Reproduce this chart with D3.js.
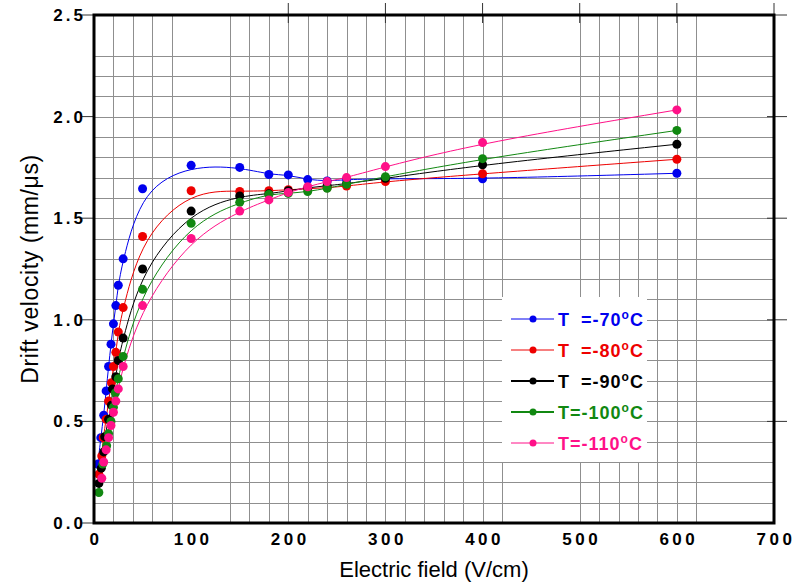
<!DOCTYPE html>
<html>
<head>
<meta charset="utf-8">
<script src="https://cdn.jsdelivr.net/npm/d3@7"></script>
<style>
  body { margin: 0; background: #fff; }
  text { font-family: "Liberation Sans", Arial, sans-serif; }
</style>
</head>
<body>
<div id="chart"></div>
<script>
// Temperatures in the legend
var labels = ["-70", "-80", "-90", "-100", "-110"];
var colors = ["#0000ee", "#ee0000", "#000000", "#118811", "#ff1188"];

// Drift velocity data, [field (V/cm), velocity (mm/us)]
var t70 = [[4, 0.29], [7, 0.42], [10, 0.53], [12.5, 0.65], [15, 0.77], [17.5, 0.88], [20, 0.98], [22.5, 1.07], [25, 1.17], [30, 1.30], [50, 1.645], [100, 1.76], [150, 1.75], [180, 1.715], [200, 1.713], [220, 1.69], [240, 1.683], [260, 1.69], [300, 1.695], [400, 1.694], [600, 1.721]];
var t80 = [[5, 0.24], [8, 0.33], [9.5, 0.42], [12.5, 0.51], [15, 0.60], [18, 0.69], [20, 0.77], [22.5, 0.84], [25, 0.94], [30, 1.06], [50, 1.41], [100, 1.635], [150, 1.632], [180, 1.635], [200, 1.64], [220, 1.645], [240, 1.65], [260, 1.658], [300, 1.68], [400, 1.719], [600, 1.79]];
var t90 = [[5, 0.195], [7.5, 0.27], [10, 0.35], [11, 0.425], [15, 0.51], [18, 0.58], [19, 0.66], [22.5, 0.72], [25, 0.80], [30, 0.91], [50, 1.25], [100, 1.535], [150, 1.609], [180, 1.62], [200, 1.635], [220, 1.65], [240, 1.66], [260, 1.67], [300, 1.696], [400, 1.763], [600, 1.864]];
var t100 = [[5, 0.15], [9, 0.29], [13, 0.38], [15, 0.44], [17.5, 0.50], [20, 0.57], [22, 0.64], [25, 0.71], [30, 0.82], [50, 1.15], [100, 1.475], [150, 1.578], [180, 1.617], [200, 1.622], [220, 1.631], [240, 1.647], [260, 1.667], [300, 1.704], [400, 1.793], [600, 1.932]];
var t110 = [[8, 0.22], [10, 0.30], [12.5, 0.36], [15, 0.42], [17.5, 0.48], [20, 0.545], [22.5, 0.60], [25, 0.66], [30, 0.77], [50, 1.07], [100, 1.40], [150, 1.535], [180, 1.59], [200, 1.627], [220, 1.655], [240, 1.68], [260, 1.70], [300, 1.754], [400, 1.872], [600, 2.033]];
var allSeries = [t70, t80, t90, t100, t110];

// Axis ticks and visible grid lines
var xTicks = [0, 100, 200, 300, 400, 500, 600, 700];
var yTicks = [0, 0.5, 1.0, 1.5, 2.0, 2.5];
var xGrid = [20, 40, 60, 80, 140, 160, 180, 200, 220, 240, 260, 280, 300, 320, 340, 360, 380, 400, 420, 500, 520, 540, 560, 580, 600, 620];
var yGrid = [0.1, 0.2, 0.3, 0.4, 0.5, 0.6, 0.7, 0.8, 0.9, 1.0, 1.1, 1.2, 1.3, 1.4, 1.5, 1.6, 1.7, 1.8, 1.9, 2.0, 2.1, 2.2, 2.3];
var xTopTicks = [200, 300, 400, 500, 600, 700];

var svgWidth = 800;
var svgHeight = 586;
var margin = { top: 15, right: 26, bottom: 63, left: 94 };
var chartWidth = svgWidth - margin.left - margin.right;
var chartHeight = svgHeight - margin.top - margin.bottom;

var svg = d3.select("#chart")
    .append("svg")
    .attr("width", svgWidth)
    .attr("height", svgHeight);

var chartGroup = svg.append("g")
    .attr("transform", `translate(${margin.left}, ${margin.top})`);

var xScale = d3.scaleLinear().domain([0, 700]).range([0, chartWidth]);
var yScale = d3.scaleLinear().domain([0, 2.5]).range([chartHeight, 0]);

// grid
chartGroup.append("g")
    .selectAll("line")
    .data(xGrid)
    .enter()
    .append("line")
    .attr("x1", d => Math.round(xScale(d)) + 0.5)
    .attr("x2", d => Math.round(xScale(d)) + 0.5)
    .attr("y1", 0)
    .attr("y2", chartHeight)
    .attr("stroke", "#8f8f8f")
    .attr("stroke-width", 1);
chartGroup.append("g")
    .selectAll("line")
    .data(yGrid)
    .enter()
    .append("line")
    .attr("x1", 0)
    .attr("x2", chartWidth)
    .attr("y1", d => Math.round(yScale(d)) + 0.5)
    .attr("y2", d => Math.round(yScale(d)) + 0.5)
    .attr("stroke", "#8f8f8f")
    .attr("stroke-width", 1);

// ticks outside the frame
chartGroup.append("g")
    .selectAll("line")
    .data(yTicks)
    .enter()
    .append("line")
    .attr("x1", -12)
    .attr("x2", 0)
    .attr("y1", d => yScale(d))
    .attr("y2", d => yScale(d))
    .attr("stroke", "#333")
    .attr("stroke-width", 1);
chartGroup.append("g")
    .selectAll("line")
    .data(yTicks.slice(1))
    .enter()
    .append("line")
    .attr("x1", chartWidth - 7)
    .attr("x2", chartWidth + 13)
    .attr("y1", d => yScale(d))
    .attr("y2", d => yScale(d))
    .attr("stroke", "#333")
    .attr("stroke-width", 1);
chartGroup.append("g")
    .selectAll("line")
    .data(xTopTicks)
    .enter()
    .append("line")
    .attr("x1", d => xScale(d))
    .attr("x2", d => xScale(d))
    .attr("y1", -12)
    .attr("y2", 8)
    .attr("stroke", "#333")
    .attr("stroke-width", 1);

// tick labels
chartGroup.append("g")
    .selectAll("text")
    .data(xTicks)
    .enter()
    .append("text")
    .attr("x", d => xScale(d) + 2)
    .attr("y", chartHeight + 22)
    .attr("text-anchor", "middle")
    .style("font-size", "17px")
    .style("font-weight", "bold")
    .style("letter-spacing", "3.5px")
    .text(d => d);
chartGroup.append("g")
    .selectAll("text")
    .data(yTicks)
    .enter()
    .append("text")
    .attr("x", -8)
    .attr("y", d => yScale(d) + 6)
    .attr("text-anchor", "end")
    .style("font-size", "17px")
    .style("font-weight", "bold")
    .style("letter-spacing", "3px")
    .text(d => d3.format(".1f")(d));

// fitted curves and points
var line = d3.line()
    .x(d => xScale(d[0]))
    .y(d => yScale(d[1]))
    .curve(d3.curveBasis);

allSeries.forEach(function (series, i) {
    chartGroup.append("path")
        .datum(series)
        .attr("d", line)
        .attr("fill", "none")
        .attr("stroke", colors[i])
        .attr("stroke-width", 1);
});
allSeries.forEach(function (series, i) {
    chartGroup.append("g")
        .selectAll("circle")
        .data(series)
        .enter()
        .append("circle")
        .attr("cx", d => xScale(d[0]))
        .attr("cy", d => yScale(d[1]))
        .attr("r", 4.5)
        .attr("fill", colors[i]);
});

// frame
chartGroup.append("rect")
    .attr("x", 0)
    .attr("y", 0)
    .attr("width", chartWidth)
    .attr("height", chartHeight)
    .attr("fill", "none")
    .attr("stroke", "#000")
    .attr("stroke-width", 3);

// legend
var legend = svg.append("g");
legend.append("rect")
    .attr("x", 502)
    .attr("y", 297)
    .attr("width", 145)
    .attr("height", 165)
    .attr("fill", "#fff");
var rowY = d3.scalePoint().domain(labels).range([319, 443]);
var rows = legend.selectAll("g.row")
    .data(labels)
    .enter()
    .append("g")
    .attr("class", "row")
    .attr("transform", d => `translate(0, ${rowY(d)})`);
rows.append("line")
    .attr("x1", 511)
    .attr("x2", 554)
    .attr("stroke", (d, i) => colors[i])
    .attr("stroke-width", (d, i) => (i == 2 || i == 3) ? 2 : 1);
rows.append("circle")
    .attr("cx", 533)
    .attr("r", 3.5)
    .attr("fill", (d, i) => colors[i]);
var txt = rows.append("text")
    .attr("x", 558)
    .attr("y", 7)
    .attr("fill", (d, i) => colors[i])
    .style("font-size", "18px")
    .style("font-weight", "bold")
    .style("letter-spacing", "1px")
    .style("white-space", "pre");
txt.append("tspan").text(d => d.length == 3 ? "T\u2007=" + d : "T=" + d);
txt.append("tspan").attr("dy", -7).style("font-size", "12px").text("o");
txt.append("tspan").attr("dy", 7).text("C");

// axis titles
svg.append("text")
    .attr("x", margin.left + chartWidth / 2)
    .attr("y", 577)
    .attr("text-anchor", "middle")
    .style("font-size", "22px")
    .text("Electric field (V/cm)");
svg.append("text")
    .attr("transform", "rotate(-90)")
    .attr("x", -(margin.top + chartHeight / 2))
    .attr("y", 38)
    .attr("text-anchor", "middle")
    .style("font-size", "23px")
    .style("letter-spacing", "0.6px")
    .text("Drift velocity (mm/\u03bcs)");
</script>
</body>
</html>
